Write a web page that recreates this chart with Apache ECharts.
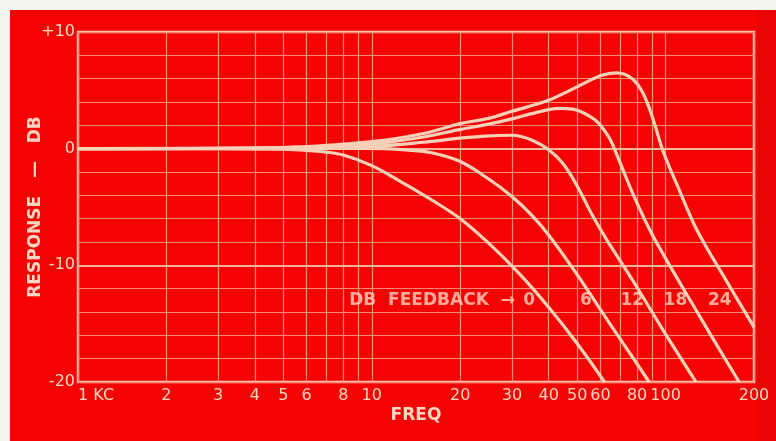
<!DOCTYPE html>
<html>
<head>
<meta charset="utf-8">
<script src="https://cdn.jsdelivr.net/npm/echarts@6/dist/echarts.min.js"></script>
<style>
  html, body { margin: 0; padding: 0; background: #f4f7f0; }
  #paper { position: absolute; left: 10px; top: 10px; width: 766px; height: 431px; background: #f50303; }
  #edge { position: absolute; left: 757px; top: 10px; width: 19px; height: 431px; background: #e80404; }
  #chart { position: absolute; left: 0; top: 0; width: 776px; height: 441px; }
</style>
</head>
<body>
<div id="paper"></div>
<div id="edge"></div>
<div id="chart"></div>
<script>
// frequency grid (kc) and labelled frequencies
const gridFreqs = [1, 2, 3, 4, 5, 6, 7, 8, 9, 10, 20, 30, 40, 50, 60, 70, 80, 90, 100, 200];
const labelFreqs = [1, 2, 3, 4, 5, 6, 8, 10, 20, 30, 40, 50, 60, 80, 100, 200];
const majorDb = [0, -10];

// response curves, one per amount of feedback (freq kc, response db)
const fb0Freq = [1, 3, 5, 6, 7, 8, 10, 12.5, 16, 20, 25, 32, 40, 50, 62];
const fb0Db   = [0, 0, -0.05, -0.15, -0.3, -0.55, -1.45, -2.8, -4.4, -6.0, -8.1, -10.8, -13.6, -16.7, -20];

const fb6Freq = [1, 5, 8, 11, 13, 16, 20, 25, 30, 35, 40, 50, 65, 88];
const fb6Db   = [0, 0, 0.05, 0, -0.1, -0.35, -1.1, -2.6, -4.1, -5.7, -7.4, -10.8, -15.1, -20];

const fb12Freq = [1, 5, 10, 15, 20, 25, 30, 35, 40, 45, 50, 56.6, 63, 70, 80, 100, 127];
const fb12Db   = [0, 0.05, 0.2, 0.55, 0.9, 1.1, 1.15, 0.75, -0.1, -1.35, -3.2, -5.8, -7.8, -9.6, -11.9, -15.9, -20];

const fb18Freq = [1, 5, 10, 15, 20, 25, 30, 35, 40, 44, 50, 56.6, 60, 64.7, 70, 77.5, 88.5, 100, 120, 150, 178];
const fb18Db   = [0, 0.1, 0.4, 1.0, 1.65, 2.1, 2.55, 3.0, 3.35, 3.45, 3.3, 2.6, 2.0, 0.8, -1.2, -3.9, -7.0, -9.4, -12.8, -16.9, -20];

const fb24Freq = [1, 5, 10, 15, 20, 25, 30, 39.5, 50, 60, 68, 77, 84, 91, 98, 109, 128, 160, 200];
const fb24Db   = [0, 0.1, 0.6, 1.3, 2.15, 2.6, 3.2, 4.1, 5.3, 6.25, 6.5, 6.0, 4.7, 2.4, -0.2, -3.0, -7.0, -11.2, -15.3];

// "DB FEEDBACK ->" caption and curve labels
const feedbackNames = ["0", "6", "12", "18", "24"];
const feedbackLabelFreq = [34.3, 53.6, 77, 108, 153];
const feedbackLabelDb = -13;
const captionFreq = 30.7;

const ink = "#fbd6c2";
const curveColor = "#f9d0b8";
const gridColor = "#f98c78";
const font = "'DejaVu Sans', sans-serif";

const lg = v => Math.log10(v);
const pairs = (fs, ds) => fs.map((f, i) => [lg(f), ds[i]]);

function curve(fs, ds, extra) {
  return Object.assign({
    type: "line",
    data: pairs(fs, ds),
    smooth: 0.35,
    symbol: "none",
    lineStyle: {color: curveColor, width: 3.2},
    z: 5
  }, extra || {});
}

const chart = echarts.init(document.getElementById("chart"));
chart.setOption({
  backgroundColor: "transparent",
  animation: false,
  textStyle: {fontFamily: font},
  grid: {
    left: 78, right: 22, top: 32, bottom: 59,
    show: true, borderColor: "#f6c3aa", borderWidth: 2.5
  },
  xAxis: {
    type: "value",
    min: 0,
    max: lg(200),
    name: "FREQ",
    nameLocation: "middle",
    nameGap: 25,
    nameMoveOverlap: false,
    nameTextStyle: {color: ink, fontSize: 17, fontWeight: "bold", fontFamily: font},
    axisLine: {show: false},
    axisTick: {show: false, customValues: gridFreqs.map(lg)},
    axisLabel: {
      customValues: labelFreqs.map(lg),
      color: ink, fontSize: 16, fontFamily: font, margin: 6,
      alignMinLabel: "left",
      formatter: v => {
        const f = Math.round(Math.pow(10, v));
        return f === 1 ? "1 KC" : String(f);
      }
    },
    splitLine: {show: true, lineStyle: {color: gridColor, width: 1.2}}
  },
  yAxis: {
    type: "value",
    min: -20,
    max: 10,
    interval: 2,
    name: "RESPONSE   —   DB",
    nameLocation: "middle",
    nameGap: 34,
    nameRotate: 90,
    nameMoveOverlap: false,
    nameTextStyle: {color: ink, fontSize: 17, fontWeight: "bold", fontFamily: font},
    axisLine: {show: false},
    axisTick: {show: false},
    axisLabel: {
      color: ink, fontSize: 16, fontFamily: font, margin: 3,
      formatter: v => v % 10 === 0 ? (v > 0 ? "+" + v : String(v)) : ""
    },
    splitLine: {show: true, lineStyle: {color: gridColor, width: 1.2}}
  },
  series: [
    curve(fb0Freq, fb0Db, {
      markLine: {
        silent: true,
        symbol: "none",
        label: {show: false},
        lineStyle: {color: "#f7b39c", width: 2.2, type: "solid"},
        data: majorDb.map(d => ({yAxis: d}))
      }
    }),
    curve(fb6Freq, fb6Db),
    curve(fb12Freq, fb12Db),
    curve(fb18Freq, fb18Db),
    curve(fb24Freq, fb24Db),
    {
      type: "scatter",
      symbolSize: 0,
      silent: true,
      z: 6,
      data: feedbackNames.map((n, i) => ({value: [lg(feedbackLabelFreq[i]), feedbackLabelDb], name: n})),
      label: {
        show: true, position: "inside", color: ink, fontSize: 17, fontWeight: "bold", fontFamily: font,
        formatter: p => p.name
      }
    },
    {
      type: "scatter",
      symbolSize: 0,
      silent: true,
      z: 6,
      data: [{value: [lg(captionFreq), feedbackLabelDb], name: "DB  FEEDBACK  →"}],
      label: {
        show: true, position: "left", distance: 0, color: ink, fontSize: 17, fontWeight: "bold", fontFamily: font,
        formatter: p => p.name
      }
    }
  ]
});
</script>
</body>
</html>
